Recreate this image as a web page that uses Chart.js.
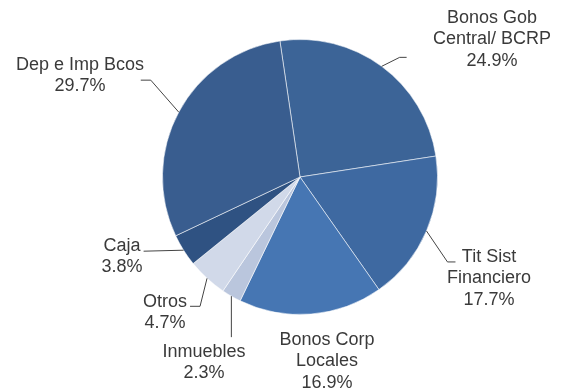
<!DOCTYPE html>
<html>
<head>
<meta charset="utf-8">
<script src="https://cdn.jsdelivr.net/npm/chart.js@4/dist/chart.umd.min.js"></script>
<style>
  body { margin: 0; background: #fff; }
  canvas { display: block; }
</style>
</head>
<body>
<canvas id="pieChart" width="561" height="390"></canvas>
<script>
const categories = [
  ['Bonos Gob', 'Central/ BCRP'],
  ['Tit Sist', 'Financiero'],
  ['Bonos Corp', 'Locales'],
  ['Inmuebles'],
  ['Otros'],
  ['Caja'],
  ['Dep e Imp Bcos']
];
const shares = [24.9, 17.7, 16.9, 2.3, 4.7, 3.8, 29.7];
const sliceColors = ['#3c6497', '#3e69a1', '#4676b3', '#bac6dd', '#d1d9e9', '#2f5282', '#395d8f'];

// label placement: text centre + leader elbow points relative to the slice edge
const labelLayout = [
  { tx: 492, ty: 18, leader: [[18, -9], [25, -9]] },
  { tx: 489, ty: 257, leader: [[21, 31], [29, 31]] },
  { tx: 327, ty: 340, leader: [] },
  { tx: 204, ty: 352, leader: [[0, 41]] },
  { tx: 165, ty: 302, leader: [[-7, 28], [-17, 28]] },
  { tx: 122, ty: 246, leader: [[-40, 1]] },
  { tx: 80, ty: 65, leader: [[-28, -32], [-38, -32]] }
];

const pieLabels = {
  id: 'pieLabels',
  afterDatasetsDraw(chart) {
    const ctx = chart.ctx;
    const arcs = chart.getDatasetMeta(0).data;
    ctx.save();
    ctx.font = '18px "Liberation Sans", Arial, sans-serif';
    ctx.fillStyle = '#3a3a3a';
    ctx.strokeStyle = '#444';
    ctx.lineWidth = 1;
    ctx.textAlign = 'center';
    ctx.textBaseline = 'middle';
    arcs.forEach((arc, i) => {
      const p = arc.getProps(['x', 'y', 'startAngle', 'endAngle', 'outerRadius'], true);
      const mid = (p.startAngle + p.endAngle) / 2;
      const ex = p.x + Math.cos(mid) * p.outerRadius;
      const ey = p.y + Math.sin(mid) * p.outerRadius;
      const lay = labelLayout[i];
      if (lay.leader.length) {
        ctx.beginPath();
        ctx.moveTo(ex, ey);
        lay.leader.forEach(([dx, dy]) => ctx.lineTo(ex + dx, ey + dy));
        ctx.stroke();
      }
      const lines = categories[i].concat([shares[i].toFixed(1) + '%']);
      lines.forEach((t, k) => ctx.fillText(t, lay.tx, lay.ty + k * 21.5));
    });
    ctx.restore();
  }
};

new Chart(document.getElementById('pieChart'), {
  type: 'pie',
  data: {
    labels: categories.map(c => c.join(' ')),
    datasets: [{
      data: shares,
      backgroundColor: sliceColors,
      borderColor: 'rgba(255,255,255,0.55)',
      borderWidth: 1
    }]
  },
  options: {
    responsive: false,
    animation: false,
    rotation: -8.4,
    layout: { padding: { left: 162, right: 123, top: 39, bottom: 75 } },
    plugins: {
      legend: { display: false },
      tooltip: { enabled: false }
    }
  },
  plugins: [pieLabels]
});
</script>
</body>
</html>
